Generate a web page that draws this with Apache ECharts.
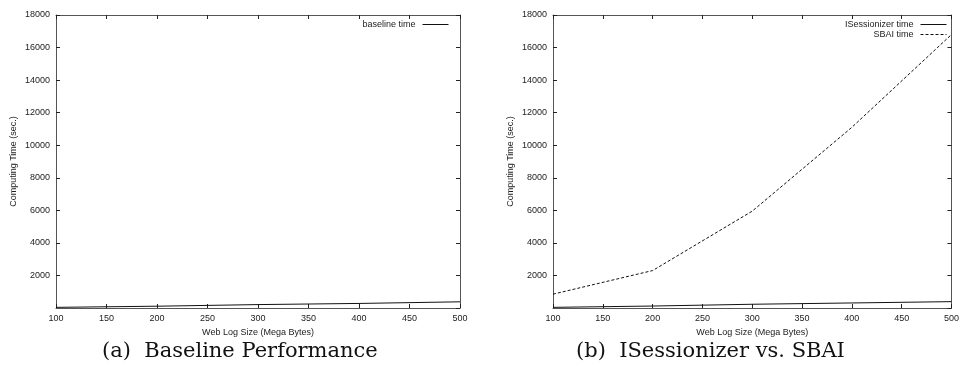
<!DOCTYPE html>
<html>
<head>
<meta charset="utf-8">
<script src="https://cdn.jsdelivr.net/npm/echarts@6/dist/echarts.min.js"></script>
<style>
  html, body { margin: 0; padding: 0; background: #fff; }
  #chart { width: 962px; height: 379px; }
</style>
</head>
<body>
<div id="chart"></div>
<script>
const logSizes = [100, 200, 300, 400, 500]
const baselineTime = [40, 110, 210, 280, 380]
const isessionizerTime = [40, 120, 230, 310, 390]
const sbaiTime = [850, 2300, 5950, 11100, 16800]

const axisColor = '#555'
const labelFont = { fontFamily: 'Liberation Sans', fontSize: 9, color: '#222' }
const plain = (v) => String(v)

function xAxes(gridIndex) {
  return [
    {
      type: 'value', gridIndex, min: 100, max: 500, interval: 50,
      name: 'Web Log Size (Mega Bytes)', nameLocation: 'middle', nameGap: 17,
      nameTextStyle: labelFont,
      axisLine: { show: true, onZero: false, lineStyle: { color: axisColor, width: 1 } },
      axisTick: { show: true, inside: true, length: 4, lineStyle: { color: '#222' } },
      axisLabel: { ...labelFont, margin: 6, formatter: plain },
      splitLine: { show: false },
    },
    {
      type: 'value', gridIndex, position: 'top', min: 100, max: 500, interval: 50,
      axisLine: { show: true, onZero: false, lineStyle: { color: axisColor, width: 1 } },
      axisTick: { show: true, inside: true, length: 4, lineStyle: { color: '#222' } },
      axisLabel: { show: false },
      splitLine: { show: false },
    },
  ]
}

function yAxes(gridIndex) {
  return [
    {
      type: 'value', gridIndex, min: 0, max: 18000, interval: 2000,
      name: 'Computing Time (sec.)', nameLocation: 'middle', nameGap: 38, nameRotate: 90,
      nameTextStyle: labelFont,
      axisLine: { show: true, onZero: false, lineStyle: { color: axisColor, width: 1 } },
      axisTick: { show: true, inside: true, length: 4, lineStyle: { color: '#222' } },
      axisLabel: { ...labelFont, margin: 6, showMinLabel: false, formatter: plain },
      splitLine: { show: false },
    },
    {
      type: 'value', gridIndex, position: 'right', min: 0, max: 18000, interval: 2000,
      axisLine: { show: true, onZero: false, lineStyle: { color: axisColor, width: 1 } },
      axisTick: { show: true, inside: true, length: 4, lineStyle: { color: '#222' } },
      axisLabel: { show: false },
      splitLine: { show: false },
    },
  ]
}

function lineSeries(name, values, idx, type) {
  return {
    name, type: 'line', xAxisIndex: idx, yAxisIndex: idx,
    data: logSizes.map((x, i) => [x, values[i]]),
    symbol: 'none', animation: false,
    lineStyle: { color: '#111', width: 1, type: type || 'solid' },
    itemStyle: { color: '#111' },
  }
}

function legend(name, right, top) {
  return {
    data: [name], right, top, align: 'right', orient: 'vertical',
    itemWidth: 26, itemHeight: 8, itemGap: 2, padding: 0,
    itemStyle: { opacity: 0 },
    lineStyle: { width: 1 },
    textStyle: { ...labelFont, padding: [0, 2, 0, 0] },
    selectedMode: false,
  }
}

const option = {
  animation: false,
  grid: [
    { left: 56, top: 15, width: 404, height: 293 },
    { left: 553, top: 15, width: 404, height: 293 },
  ],
  xAxis: [...xAxes(0), ...xAxes(1)],
  yAxis: [...yAxes(0), ...yAxes(1)],
  legend: [
    legend('baseline time', 962 - 449, 20),
    legend('ISessionizer time', 962 - 947, 20),
    legend('SBAI time', 962 - 947, 30),
  ],
  series: [
    lineSeries('baseline time', baselineTime, 0),
    lineSeries('ISessionizer time', isessionizerTime, 2),
    lineSeries('SBAI time', sbaiTime, 2, [3, 2]),
  ],
  graphic: [
    {
      type: 'text', left: 102, top: 341,
      style: { text: '(a)  Baseline Performance', font: '21px "DejaVu Serif"', fill: '#111' },
    },
    {
      type: 'text', left: 576, top: 341,
      style: { text: '(b)  ISessionizer vs. SBAI', font: '21px "DejaVu Serif"', fill: '#111' },
    },
  ],
}

const chart = echarts.init(document.getElementById('chart'))
chart.setOption(option)
</script>
</body>
</html>
